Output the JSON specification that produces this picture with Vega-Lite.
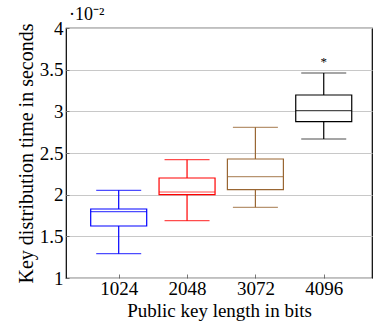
{
  "$schema": "https://vega.github.io/schema/vega-lite/v6.json",
  "width": 306,
  "height": 250,
  "autosize": {"type": "none"},
  "padding": {"left": 66, "top": 28, "right": 1, "bottom": 46},
  "background": "white",
  "title": {"text": "·10⁻²", "anchor": "start", "frame": "group", "font": "Liberation Serif", "fontSize": 18, "fontWeight": "normal", "offset": 4, "dx": 3, "dy": 9, "color": "black"},
  "config": {
    "view": {"stroke": "black", "strokeWidth": 1.2},
    "font": "Liberation Serif",
    "axis": {"labelFont": "Liberation Serif", "titleFont": "Liberation Serif"}
  },
  "datasets": {
    "boxes": [
      {"key": "1024", "pos": 1, "lower": 1.292, "q1": 1.624, "median": 1.796, "q3": 1.828, "upper": 2.052},
      {"key": "2048", "pos": 2, "lower": 1.688, "q1": 2.0, "median": 2.032, "q3": 2.2, "upper": 2.42},
      {"key": "3072", "pos": 3, "lower": 1.848, "q1": 2.06, "median": 2.216, "q3": 2.428, "upper": 2.808},
      {"key": "4096", "pos": 4, "lower": 2.668, "q1": 2.876, "median": 3.008, "q3": 3.196, "upper": 3.46}
    ],
    "outliers": [
      {"key": "4096", "pos": 4, "value": 3.612}
    ]
  },
  "data": {"name": "boxes"},
  "encoding": {
    "x": {
      "field": "pos", "type": "quantitative",
      "scale": {"domain": [0.302, 4.633], "nice": false, "zero": false},
      "axis": {
        "values": [1, 2, 3, 4],
        "labelExpr": "['1024','2048','3072','4096'][datum.value-1]",
        "grid": false, "domain": false,
        "tickColor": "#555", "tickSize": -4, "tickWidth": 0.8,
        "labelFont": "Liberation Serif", "labelFontSize": 19, "labelColor": "black", "labelPadding": 5,
        "title": "Public key length in bits", "titleFont": "Liberation Serif", "titleFontSize": 19, "titleFontWeight": "normal", "titleColor": "black", "titlePadding": 3
      }
    },
    "color": {
      "field": "key", "type": "nominal",
      "scale": {"domain": ["1024", "2048", "3072", "4096"], "range": ["#0000ff", "#ff0000", "#996633", "#000000"]},
      "legend": null
    }
  },
  "layer": [
    {
      "mark": {"type": "rule", "strokeWidth": 1.2},
      "encoding": {
        "y": {
          "field": "lower", "type": "quantitative",
          "scale": {"domain": [1, 4], "nice": false, "zero": false},
          "axis": {
            "values": [1, 1.5, 2, 2.5, 3, 3.5, 4],
            "format": "~g",
            "grid": true, "gridColor": "#c8c8c8", "gridWidth": 1,
            "domain": false, "tickColor": "#555", "tickSize": -3, "tickWidth": 0.8,
            "labelFont": "Liberation Serif", "labelFontSize": 19, "labelColor": "black", "labelPadding": 6,
            "title": "Key distribution time in seconds", "titleFont": "Liberation Serif", "titleFontSize": 20, "titleFontWeight": "normal", "titleColor": "black", "titlePadding": 3
          }
        },
        "y2": {"field": "upper"}
      }
    },
    {
      "mark": {"type": "bar", "orient": "vertical", "size": 56, "fill": "white", "strokeWidth": 1.2},
      "encoding": {
        "y": {"field": "q1", "type": "quantitative"},
        "y2": {"field": "q3"},
        "stroke": {"field": "key", "type": "nominal", "scale": {"domain": ["1024", "2048", "3072", "4096"], "range": ["#0000ff", "#ff0000", "#996633", "#000000"]}, "legend": null},
        "color": {"value": "white"}
      }
    },
    {
      "mark": {"type": "tick", "orient": "horizontal", "size": 56, "thickness": 1.2},
      "encoding": {"y": {"field": "median", "type": "quantitative"}}
    },
    {
      "mark": {"type": "tick", "orient": "horizontal", "size": 45, "thickness": 1.2},
      "encoding": {"y": {"field": "upper", "type": "quantitative"}}
    },
    {
      "mark": {"type": "tick", "orient": "horizontal", "size": 45, "thickness": 1.2},
      "encoding": {"y": {"field": "lower", "type": "quantitative"}}
    },
    {
      "data": {"name": "outliers"},
      "mark": {"type": "text", "text": "*", "font": "Liberation Serif", "fontSize": 13, "baseline": "middle", "dy": 2},
      "encoding": {"y": {"field": "value", "type": "quantitative"}}
    }
  ]
}
